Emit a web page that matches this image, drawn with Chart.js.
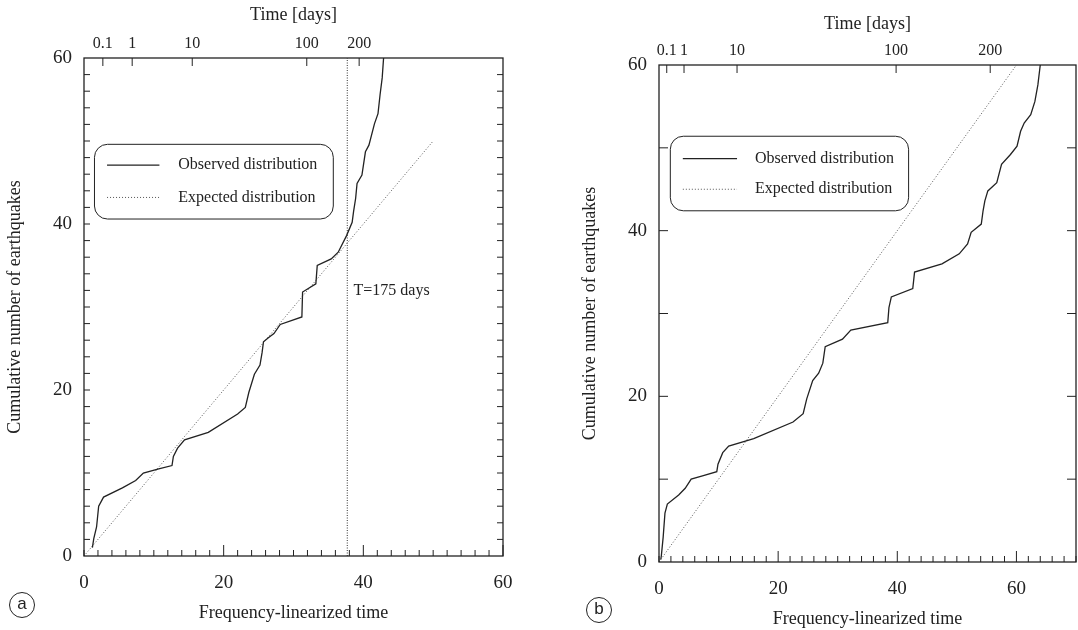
<!DOCTYPE html>
<html>
<head>
<meta charset="utf-8">
<script src="https://cdn.jsdelivr.net/npm/chart.js@4.4.1/dist/chart.umd.min.js"></script>
<style>
  body { margin: 0; background: #fff; }
  #wrap { position: relative; width: 1078px; height: 630px; overflow: hidden; }
  canvas { position: absolute; top: 0; }
  #ca { left: 0; }
  #cb { left: 540px; }
  .tag {
    position: absolute; width: 24px; height: 24px; border: 1.3px solid #222; border-radius: 50%;
    font: 17px "Liberation Sans", Arial, sans-serif; text-align: center; line-height: 22px; color: #222;
  }
</style>
</head>
<body>
<div id="wrap">
  <canvas id="ca" width="540" height="630"></canvas>
  <canvas id="cb" width="538" height="630"></canvas>
  <div class="tag" style="left:9px;top:592px">a</div>
  <div class="tag" style="left:586px;top:597px">b</div>
</div>
<script>
// panel (a)
const obsAX = [1.2, 1.4, 1.8, 2.1, 2.8, 5.5, 7.4, 8.5, 10.7, 12.6, 12.8, 13.4, 14.4, 17.8, 22.0, 23.1, 23.6, 24.4, 25.2, 25.5, 25.7, 26.4, 27.2, 28.1, 31.2, 31.3, 33.2, 33.4, 35.4, 36.4, 37.6, 38.4, 38.6, 38.9, 39.1, 39.8, 40.3, 40.8, 41.6, 42.1, 42.4, 42.7, 42.9];
const obsAY = [1.0, 2.1, 3.5, 6.0, 7.1, 8.2, 9.1, 10.0, 10.5, 10.9, 12.0, 13.0, 14.0, 14.9, 17.1, 17.9, 19.7, 21.9, 23.0, 24.5, 25.8, 26.3, 26.8, 27.9, 28.8, 31.8, 32.8, 35.0, 35.8, 36.6, 38.6, 40.2, 41.5, 43.1, 44.9, 45.9, 48.7, 49.5, 52.1, 53.3, 55.6, 57.6, 60];
const expAX = [0, 50];
const expAY = [0, 50];
const tDaysA = 37.7;   // T=175 days
const timeLabels = ['0.1', '1', '10', '100', '200'];
const timePosA = [2.7, 6.9, 15.5, 31.9, 39.4];

// panel (b)
const obsBX = [0.3, 0.4, 0.7, 1.0, 1.4, 3.3, 4.4, 5.4, 7.3, 9.7, 9.9, 10.7, 11.7, 15.9, 22.5, 24.2, 24.8, 25.8, 26.8, 27.5, 27.9, 30.8, 32.2, 38.4, 38.6, 39.0, 42.6, 42.9, 47.5, 50.4, 51.8, 52.4, 54.1, 54.4, 54.7, 55.2, 56.7, 57.5, 59.0, 60.1, 60.7, 61.3, 62.4, 63.1, 63.6, 64.0];
const obsBY = [0.3, 0.8, 3.0, 5.9, 7.0, 8.1, 8.9, 10.0, 10.4, 10.9, 11.8, 13.2, 14.0, 14.9, 16.9, 17.9, 19.7, 21.9, 22.8, 24.0, 26.0, 26.9, 28.0, 28.9, 30.7, 32.0, 33.0, 35.0, 36.0, 37.2, 38.4, 39.8, 40.8, 42.4, 43.6, 44.8, 45.8, 48.0, 49.2, 50.2, 52.0, 53.0, 54.0, 55.6, 57.6, 60];
const expBX = [0, 60];
const expBY = [0, 60];
const timePosB = [1.3, 4.2, 13.1, 39.8, 55.6];

const axisLabels = [0, 20, 40, 60];

const serif = '"Liberation Serif", "Times New Roman", serif';
const ink = '#222';

function pts(xs, ys) {
    return xs.map((x, i) => ({ x, y: ys[i] }));
}

// box, inward ticks, legend and the T label
const framePlugin = {
    id: 'frame',
    afterDraw(chart, args, o) {
        const { ctx, chartArea: { left, right, top, bottom }, scales: { x, y, xt } } = chart;
        ctx.save();
        ctx.strokeStyle = ink;
        ctx.lineWidth = 1.3;
        ctx.strokeRect(left, top, right - left, bottom - top);

        ctx.lineWidth = 1;
        ctx.beginPath();
        for (let v = 0; v <= x.max; v += 2) {
            let px = x.getPixelForValue(v);
            let len = v > 0 && v % 20 === 0 ? 11 : 6;
            ctx.moveTo(px, bottom);
            ctx.lineTo(px, bottom - len);
        }
        for (let v = o.yStep; v < y.max; v += o.yStep) {
            let py = y.getPixelForValue(v);
            ctx.moveTo(left, py);
            ctx.lineTo(left + o.yLen, py);
            ctx.moveTo(right, py);
            ctx.lineTo(right - o.yLen, py);
        }
        xt.ticks.forEach((t) => {
            let px = xt.getPixelForValue(t.value);
            ctx.moveTo(px, top);
            ctx.lineTo(px, top + 8);
        });
        ctx.stroke();

        // legend box
        let L = o.legend;
        let bx0 = x.getPixelForValue(L.x0), bx1 = x.getPixelForValue(L.x1);
        let by0 = y.getPixelForValue(L.top), by1 = y.getPixelForValue(L.bottom);
        ctx.beginPath();
        ctx.roundRect(bx0, by0, bx1 - bx0, by1 - by0, 13);
        ctx.stroke();
        ctx.font = '16px ' + serif;
        ctx.fillStyle = ink;
        ctx.textBaseline = 'middle';
        L.rows.forEach((rowY, i) => {
            let ds = chart.data.datasets[i];
            let py = y.getPixelForValue(rowY);
            ctx.save();
            ctx.strokeStyle = ds.borderColor;
            ctx.lineWidth = ds.borderWidth;
            ctx.setLineDash(ds.borderDash || []);
            ctx.beginPath();
            ctx.moveTo(x.getPixelForValue(L.line0), py);
            ctx.lineTo(x.getPixelForValue(L.line1), py);
            ctx.stroke();
            ctx.restore();
            ctx.fillText(ds.label, x.getPixelForValue(L.textX), py);
        });

        if (o.note) {
            ctx.fillText(o.note.text, x.getPixelForValue(o.note.x), y.getPixelForValue(o.note.y));
        }
        ctx.restore();
    }
};

function makePanel(id, p) {
    let datasets = [
        { label: 'Observed distribution', data: pts(p.obsX, p.obsY), showLine: true, borderColor: ink, borderWidth: 1.3, pointRadius: 0 },
        { label: 'Expected distribution', data: pts(p.expX, p.expY), showLine: true, borderColor: '#555', borderWidth: 1, borderDash: [1, 2], pointRadius: 0 },
    ];
    if (p.tLine) {
        datasets.push({ label: 'T', data: [{ x: p.tLine, y: 0 }, { x: p.tLine, y: 60 }], showLine: true, borderColor: '#333', borderWidth: 1, borderDash: [1, 1.5], pointRadius: 0 });
    }
    new Chart(document.getElementById(id), {
        type: 'scatter',
        data: { datasets },
        options: {
            responsive: false,
            animation: false,
            devicePixelRatio: 1,
            layout: { padding: { left: 0, right: p.padRight, top: 0, bottom: 0 } },
            plugins: {
                legend: { display: false },
                tooltip: { enabled: false },
                frame: { yStep: p.yStep, yLen: p.yLen, legend: p.legend, note: p.note },
            },
            scales: {
                x: {
                    type: 'linear', position: 'bottom', min: 0, max: p.xMax,
                    afterBuildTicks: (s) => { s.ticks = axisLabels.map((v) => ({ value: v })); },
                    afterFit: (s) => { s.height = p.bottomH; },
                    grid: { display: false, drawTicks: false },
                    border: { display: false },
                    ticks: { color: ink, font: { family: serif, size: 19 }, padding: 16, maxRotation: 0, autoSkip: false },
                    title: { display: true, text: 'Frequency-linearized time', color: ink, font: { family: serif, size: 18 }, padding: { top: 0, bottom: p.xTitlePad } },
                },
                xt: {
                    type: 'linear', axis: 'x', position: 'top', min: 0, max: p.xMax,
                    afterBuildTicks: (s) => { s.ticks = p.timePos.map((v) => ({ value: v })); },
                    afterFit: (s) => { s.height = p.topH; },
                    grid: { display: false, drawTicks: false },
                    border: { display: false },
                    ticks: { color: ink, font: { family: serif, size: 16 }, padding: 5, maxRotation: 0, autoSkip: false, callback: (v, i) => timeLabels[i] },
                    title: { display: true, text: 'Time [days]', color: ink, font: { family: serif, size: 18 }, padding: { top: p.topTitlePad, bottom: 0 } },
                },
                y: {
                    type: 'linear', min: 0, max: 60,
                    afterBuildTicks: (s) => { s.ticks = axisLabels.map((v) => ({ value: v })); },
                    afterFit: (s) => { s.width = p.leftW; },
                    grid: { display: false, drawTicks: false },
                    border: { display: false },
                    ticks: { color: ink, font: { family: serif, size: 19 }, padding: 12 },
                    title: { display: true, text: 'Cumulative number of earthquakes', color: ink, font: { family: serif, size: 18 }, padding: { top: p.yTitlePad, bottom: 0 } },
                },
            },
        },
        plugins: [framePlugin],
    });
}

makePanel('ca', {
    obsX: obsAX, obsY: obsAY, expX: expAX, expY: expAY, tLine: tDaysA, timePos: timePosA,
    xMax: 60, yStep: 2, yLen: 6,
    leftW: 84, topH: 58, bottomH: 74, padRight: 37,
    xTitlePad: 6, topTitlePad: 4, yTitlePad: 4,
    legend: { x0: 1.5, x1: 35.7, top: 49.6, bottom: 40.6, line0: 3.3, line1: 10.8, textX: 13.5, rows: [47.1, 43.2] },
    note: { text: 'T=175 days', x: 38.6, y: 32.0 },
});

makePanel('cb', {
    obsX: obsBX, obsY: obsBY, expX: expBX, expY: expBY, timePos: timePosB,
    xMax: 70, yStep: 10, yLen: 9,
    leftW: 119, topH: 65, bottomH: 68, padRight: 2,
    xTitlePad: 0, topTitlePad: 13, yTitlePad: 39,
    legend: { x0: 1.9, x1: 41.9, top: 51.4, bottom: 42.4, line0: 4.0, line1: 13.1, textX: 16.1, rows: [48.7, 45.0] },
});
</script>
</body>
</html>
